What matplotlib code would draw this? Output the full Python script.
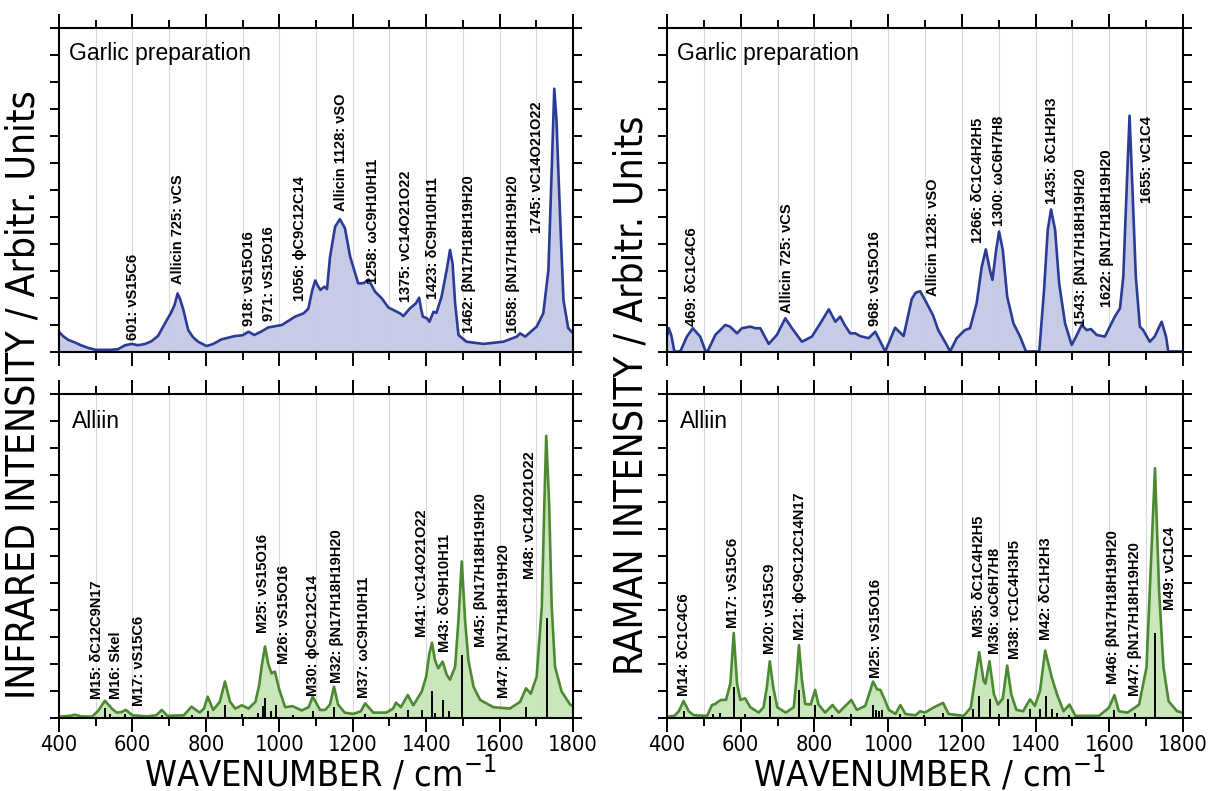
import matplotlib
matplotlib.use("Agg")
import matplotlib.pyplot as plt
from matplotlib import font_manager as fm

#- Fonts: Arial-like for the peak labels, a narrow face (if any) for axes text
names = {f.name for f in fm.fontManager.ttflist}
SANS = 'Liberation Sans' if 'Liberation Sans' in names else 'DejaVu Sans'
narrow_path = None
for f in fm.fontManager.ttflist:
    if f.style == 'normal' and f.weight in (400, 'normal', 'regular') and \
            ('Narrow' in f.name or 'Condensed' in f.name or f.stretch in ('condensed', 'semi-condensed')):
        narrow_path = f.fname
        break
NARROW = fm.FontProperties(fname=narrow_path) if narrow_path else fm.FontProperties(family=SANS)

#- IR spectrum, garlic preparation (wavenumber / intensity in tick units)
ir_garlic_x = [400, 410, 425, 444, 460, 480, 500, 540, 560, 580, 598, 615, 635, 652, 670, 689, 705, 715,
               723, 730, 739, 752, 765, 779, 802, 820, 843, 879, 900, 916, 932, 950, 970, 1007, 1043,
               1066, 1079, 1090, 1098, 1105, 1112, 1123, 1130, 1138, 1152, 1165, 1179, 1193, 1215, 1230,
               1243, 1261, 1279, 1297, 1329, 1338, 1356, 1372, 1381, 1386, 1391, 1402, 1409, 1420, 1428,
               1442, 1456, 1465, 1472, 1479, 1488, 1510, 1556, 1610, 1647, 1656, 1670, 1701, 1719, 1733,
               1742, 1749, 1755, 1760, 1767, 1774, 1787, 1800]
ir_garlic_y = [0.75, 0.6, 0.45, 0.35, 0.25, 0.15, 0.08, 0.08, 0.1, 0.25, 0.3, 0.25, 0.3, 0.4, 0.6, 1.07,
               1.45, 1.75, 2.17, 1.95, 1.55, 0.81, 0.55, 0.38, 0.22, 0.3, 0.47, 0.59, 0.62, 0.75, 0.63,
               0.75, 0.91, 1.0, 1.31, 1.43, 1.6, 2.3, 2.65, 2.45, 2.3, 2.42, 2.33, 3.5, 4.64, 4.92, 4.58,
               3.53, 2.54, 2.55, 2.69, 2.23, 1.99, 1.65, 1.43, 1.33, 1.62, 1.80, 2.01, 1.6, 1.31, 1.25,
               1.12, 1.49, 1.45, 2.05, 3.04, 3.78, 3.28, 1.8, 0.63, 0.38, 0.3, 0.38, 0.57, 0.69, 0.57,
               0.94, 1.43, 3.04, 6.74, 9.75, 8.6, 6.74, 4.27, 1.93, 0.88, 0.7]

#- Raman spectrum, garlic preparation
ra_garlic_x = [400, 405, 412, 420, 436, 454, 470, 490, 504, 510, 531, 558, 571, 590, 603, 626, 640, 653,
               676, 698, 721, 739, 766, 793, 816, 839, 857, 870, 882, 897, 911, 924, 947, 965, 979, 992,
               1019, 1042, 1064, 1075, 1087, 1105, 1122, 1136, 1159, 1168, 1186, 1208, 1222, 1240, 1254,
               1265, 1276, 1283, 1293, 1301, 1311, 1323, 1340, 1358, 1374, 1410, 1423, 1433, 1442, 1453,
               1464, 1480, 1498, 1512, 1525, 1539, 1550, 1566, 1588, 1615, 1629, 1638, 1647, 1655, 1663,
               1672, 1683, 1692, 1710, 1723, 1742, 1754, 1760, 1800]
ra_garlic_y = [0.6, 0.88, 0.6, 0.02, 0.02, 0.57, 0.88, 0.57, 0.05, 0.02, 0.63, 1.0, 0.94, 0.69, 0.88,
               0.94, 0.88, 0.88, 0.3, 0.63, 1.25, 0.88, 0.38, 0.57, 1.06, 1.58, 1.12, 1.31, 1.0, 0.69,
               0.69, 0.59, 0.51, 0.75, 0.38, 0.02, 0.9, 0.59, 1.96, 2.2, 2.25, 1.8, 1.35, 0.81, 0.26,
               0.02, 0.51, 0.81, 0.88, 1.8, 3.16, 3.8, 3.04, 2.67, 3.78, 4.46, 3.78, 2.05, 1.06, 0.57,
               0.02, 0.02, 2.3, 4.52, 5.28, 4.52, 2.54, 1.06, 0.26, 0.63, 1.0, 0.81, 0.85, 0.63, 0.57,
               1.31, 1.62, 2.79, 6.0, 8.75, 6.0, 2.79, 0.94, 0.81, 0.38, 0.57, 1.12, 0.57, 0.02, 0.02]

#- Calculated IR spectrum of alliin
ir_alliin_x = [400, 430, 444, 460, 490, 507, 525, 544, 557, 570, 582, 600, 640, 665, 680, 695, 740, 761,
               783, 795, 805, 820, 838, 852, 866, 880, 898, 916, 935, 945, 953, 961, 970, 979, 988, 1000,
               1016, 1036, 1061, 1080, 1091, 1111, 1125, 1138, 1149, 1160, 1178, 1201, 1222, 1234, 1256,
               1292, 1310, 1318, 1331, 1350, 1365, 1388, 1400, 1409, 1416, 1424, 1433, 1445, 1456, 1465,
               1479, 1488, 1497, 1506, 1515, 1529, 1547, 1583, 1628, 1656, 1672, 1685, 1701, 1715, 1722,
               1727, 1735, 1742, 1751, 1769, 1792, 1800]
ir_alliin_y = [0.05, 0.08, 0.12, 0.06, 0.05, 0.27, 0.64, 0.35, 0.2, 0.22, 0.3, 0.1, 0.06, 0.1, 0.3, 0.08,
               0.1, 0.42, 0.2, 0.35, 0.79, 0.3, 0.6, 1.35, 0.6, 0.35, 0.47, 0.35, 0.6, 1.2, 2.0, 2.65,
               2.0, 1.65, 1.72, 1.05, 0.4, 0.44, 0.28, 0.4, 0.79, 0.3, 0.3, 0.5, 1.16, 0.5, 0.2, 0.15,
               0.25, 0.54, 0.2, 0.2, 0.35, 0.57, 0.4, 0.85, 0.47, 0.98, 1.53, 2.4, 2.79, 2.15, 1.84,
               2.09, 1.6, 1.42, 1.9, 3.63, 5.8, 3.63, 2.15, 1.16, 0.67, 0.4, 0.35, 0.6, 1.1, 0.9, 1.53,
               4.12, 7.95, 10.45, 7.95, 4.12, 1.9, 0.98, 0.5, 0.45]
ir_sticks_x = [525, 540, 580, 680, 762, 806, 852, 898, 943, 957, 962, 977, 990, 1036, 1091, 1149, 1234,
               1318, 1350, 1388, 1416, 1424, 1445, 1462, 1497, 1672, 1728]
ir_sticks_h = [0.37, 0.15, 0.15, 0.1, 0.1, 0.25, 0.5, 0.15, 0.2, 0.45, 0.75, 0.25, 0.5, 0.1, 0.25, 0.42,
               0.15, 0.2, 0.3, 0.3, 1.0, 0.2, 0.65, 0.25, 2.35, 0.4, 3.7]

#- Calculated Raman spectrum of alliin
ra_alliin_x = [400, 420, 432, 445, 459, 473, 509, 522, 531, 538, 547, 560, 572, 581, 590, 599, 612, 626,
               649, 662, 671, 679, 688, 699, 722, 744, 751, 758, 766, 775, 790, 802, 811, 829, 849, 866,
               900, 915, 938, 952, 959, 970, 979, 991, 1002, 1020, 1033, 1047, 1074, 1087, 1100, 1122,
               1149, 1164, 1205, 1224, 1238, 1247, 1259, 1264, 1275, 1287, 1298, 1311, 1323, 1334, 1348,
               1366, 1385, 1398, 1412, 1426, 1435, 1444, 1458, 1476, 1492, 1508, 1572, 1599, 1614, 1626,
               1649, 1669, 1681, 1701, 1710, 1724, 1735, 1747, 1761, 1784, 1800]
ra_alliin_y = [0.05, 0.08, 0.25, 0.63, 0.25, 0.1, 0.08, 0.48, 0.52, 0.6, 0.67, 0.67, 1.28, 3.15, 1.28,
               0.67, 0.73, 0.4, 0.2, 0.4, 1.16, 2.1, 1.16, 0.4, 0.2, 0.4, 1.41, 2.7, 1.41, 0.52, 0.5,
               1.04, 0.5, 0.2, 0.48, 0.2, 0.67, 0.3, 0.45, 1.04, 1.35, 1.06, 1.04, 0.67, 0.3, 0.15,
               0.48, 0.15, 0.1, 0.25, 0.2, 0.38, 0.56, 0.15, 0.08, 0.38, 1.63, 2.44, 1.38, 1.27, 2.1,
               0.88, 0.5, 0.72, 1.94, 0.88, 0.3, 0.25, 0.69, 0.45, 1.0, 2.5, 2.0, 1.5, 0.88, 0.25, 0.5,
               0.08, 0.08, 0.38, 0.85, 0.25, 0.2, 0.38, 0.5, 1.88, 4.75, 9.25, 4.75, 1.88, 0.62, 0.25, 0.2]
ra_sticks_x = [445, 526, 544, 582, 612, 679, 759, 802, 849, 900, 959, 967, 976, 983, 1033, 1097, 1149,
               1230, 1247, 1277, 1302, 1325, 1385, 1412, 1428, 1444, 1458, 1492, 1614, 1671, 1724]
ra_sticks_h = [0.25, 0.15, 0.2, 1.14, 0.15, 0.81, 1.04, 0.48, 0.1, 0.15, 0.48, 0.3, 0.25, 0.3, 0.15,
               0.1, 0.2, 0.35, 0.81, 0.69, 0.15, 0.69, 0.35, 0.35, 0.81, 0.35, 0.2, 0.1, 0.3, 0.2, 3.13]

#- Band assignments: text, label x, label bottom y
ir_garlic_labels = ['601: νS15C6', 'Allicin 725: νCS', '918: νS15O16', '971: νS15O16',
                    '1056: ϕC9C12C14', 'Allicin 1128: νSO', '1258: ωC9H10H11', '1375: νC14O21O22',
                    '1423: δC9H10H11', '1462: βN17H18H19H20', '1658: βN17H18H19H20', '1745: νC14O21O22']
ir_garlic_lx = [601, 725, 918, 971, 1056, 1169, 1254, 1346, 1420, 1517, 1636, 1701]
ir_garlic_ly = [0.46, 2.53, 0.96, 1.15, 1.9, 5.22, 2.53, 1.84, 1.96, 0.71, 0.71, 4.4]

ra_garlic_labels = ['469: δC1C4C6', 'Allicin 725: νCS', '968: νS15O16', 'Allicin 1128: νSO',
                    '1266: δC1C4H2H5', '1300: ωC6H7H8', '1435: δC1H2H3', '1543: βN17H18H19H20',
                    '1622: βN17H18H19H20', '1655: νC1C4']
ra_garlic_lx = [468, 725, 963, 1123, 1243, 1300, 1444, 1522, 1595, 1701]
ra_garlic_ly = [0.96, 1.46, 0.96, 2.09, 4.03, 4.65, 5.47, 0.96, 1.65, 5.53]

ir_alliin_labels = ['M15: δC12C9N17', 'M16: Skel', 'M17: νS15C6', 'M25: νS15O16', 'M26: νS15O16',
                    'M30: ϕC9C12C14', 'M32: βN17H18H19H20', 'M37: ωC9H10H11', 'M41: νC14O21O22',
                    'M43: δC9H10H11', 'M45: βN17H18H19H20', 'M47: βN17H18H19H20', 'M48: νC14O21O22']
ir_alliin_lx = [504, 555, 618, 955, 1013, 1091, 1158, 1231, 1388, 1452, 1549, 1613, 1682]
ir_alliin_ly = [0.69, 0.69, 0.44, 3.13, 2.0, 0.81, 1.31, 0.75, 3.0, 2.44, 2.63, 0.75, 5.13]

ra_alliin_labels = ['M14: δC1C4C6', 'M17: νS15C6', 'M20: νS15C9', 'M21: ϕC9C12C14N17', 'M25: νS15O16',
                    'M35: δC1C4H2H5', 'M36: ωC6H7H8', 'M38: τC1C4H3H5', 'M42: δC1H2H3',
                    'M46: βN17H18H19H20', 'M47: βN17H18H19H20', 'M49: νC1C4']
ra_alliin_lx = [445, 578, 679, 761, 968, 1247, 1289, 1343, 1428, 1609, 1669, 1765]
ra_alliin_ly = [0.81, 3.32, 2.38, 2.88, 1.5, 3.0, 2.38, 2.19, 2.88, 1.25, 0.81, 4.0]

BLUE_LINE, BLUE_FILL = '#2a3c96', '#c2c6e4'
GREEN_LINE, GREEN_FILL = '#4c8a32', '#c6e4b6'

W, H = 1214, 791
fig = plt.figure(figsize=(W / 100, H / 100), dpi=100)
renderer = fig.canvas.get_renderer()

def fit_width(txt, width_px, horizontal=True):
    # scale a text's font size so that its long side spans width_px
    bb = txt.get_window_extent(renderer)
    cur = bb.width if horizontal else bb.height
    txt.set_fontsize(txt.get_fontsize() * width_px / cur)

def new_axes(left, top, right, bottom):
    return fig.add_axes([left / W, 1 - bottom / H, (right - left) / W, (bottom - top) / H])

ax_tl = new_axes(59, 28, 573, 352)
ax_tr = new_axes(667, 28, 1183, 352)
ax_bl = new_axes(59, 394, 573, 718)
ax_br = new_axes(667, 394, 1183, 718)

#- tick label size from the width of "1000"
probe = fig.text(0, 0, '1000', fontproperties=NARROW, fontsize=18)
fit_width(probe, 50)
TICK_SIZE = probe.get_fontsize()
probe.remove()

def style(ax, show_labels):
    ax.set_xlim(400, 1800)
    ax.set_ylim(0, 12)
    ax.set_xticks(range(400, 1801, 200))
    ax.set_xticks(range(500, 1800, 200), minor=True)
    ax.set_yticks(range(0, 13))
    ax.tick_params(axis='x', which='major', direction='out', length=10, width=1.4,
                   top=True, bottom=True, labelbottom=show_labels, pad=2)
    ax.tick_params(axis='x', which='minor', direction='out', length=5.5, width=1.4,
                   top=True, bottom=True)
    ax.tick_params(axis='y', which='major', direction='out', length=6.5, width=1.4,
                   left=True, right=True, labelleft=False)
    for lab in ax.get_xticklabels():
        lab.set_fontproperties(NARROW)
        lab.set_fontsize(TICK_SIZE)
    for v in range(500, 1800, 100):
        ax.axvline(v, color='#dadada', lw=0.8, zorder=0)
    for s in ax.spines.values():
        s.set_linewidth(1.5)
        s.set_zorder(5)

def spectrum(ax, x, y, line, fill):
    ax.fill_between(x, 0, y, color=fill, alpha=0.9, lw=0, zorder=1)
    ax.plot(x, y, color=line, lw=1.9, zorder=3)

def assign(ax, labels, lx, ly):
    for t, x, y in zip(labels, lx, ly):
        ax.text(x, y, t, rotation=90, ha='center', va='bottom', fontsize=10.5,
                fontweight='bold', family=SANS, zorder=4)

spectrum(ax_tl, ir_garlic_x, ir_garlic_y, BLUE_LINE, BLUE_FILL)
spectrum(ax_tr, ra_garlic_x, ra_garlic_y, BLUE_LINE, BLUE_FILL)
spectrum(ax_bl, ir_alliin_x, ir_alliin_y, GREEN_LINE, GREEN_FILL)
spectrum(ax_br, ra_alliin_x, ra_alliin_y, GREEN_LINE, GREEN_FILL)
ax_bl.vlines(ir_sticks_x, 0, ir_sticks_h, color='black', lw=1.4, zorder=2)
ax_br.vlines(ra_sticks_x, 0, ra_sticks_h, color='black', lw=1.4, zorder=2)

assign(ax_tl, ir_garlic_labels, ir_garlic_lx, ir_garlic_ly)
assign(ax_tr, ra_garlic_labels, ra_garlic_lx, ra_garlic_ly)
assign(ax_bl, ir_alliin_labels, ir_alliin_lx, ir_alliin_ly)
assign(ax_br, ra_alliin_labels, ra_alliin_lx, ra_alliin_ly)

for ax in (ax_tl, ax_tr):
    style(ax, False)
    ax.text(0.02, 0.9, 'Garlic preparation', transform=ax.transAxes, fontsize=16.5,
            family=SANS, va='baseline')
for ax in (ax_bl, ax_br):
    style(ax, True)
    ax.text(0.025, 0.895, 'Alliin', transform=ax.transAxes, fontsize=16.5,
            family=SANS, va='baseline')

#- Axis titles
ylab_ir = fig.text(24 / W, 1 - 395 / H, 'INFRARED INTENSITY / Arbitr. Units', rotation=90,
                   ha='center', va='center', fontproperties=NARROW, fontsize=30)
fit_width(ylab_ir, 608, horizontal=False)
ylab_ra = fig.text(632 / W, 1 - 395 / H, 'RAMAN INTENSITY / Arbitr. Units', rotation=90,
                   ha='center', va='center', fontproperties=NARROW, fontsize=ylab_ir.get_fontsize())
for cx in (320, 929):
    xl = fig.text(cx / W, 1 - 786 / H, 'WAVENUMBER / cm$\\mathregular{^{-1}}$', ha='center',
                  va='baseline', fontproperties=NARROW, fontsize=30)
    fit_width(xl, 352)

fig.savefig('out.png', dpi=100)
